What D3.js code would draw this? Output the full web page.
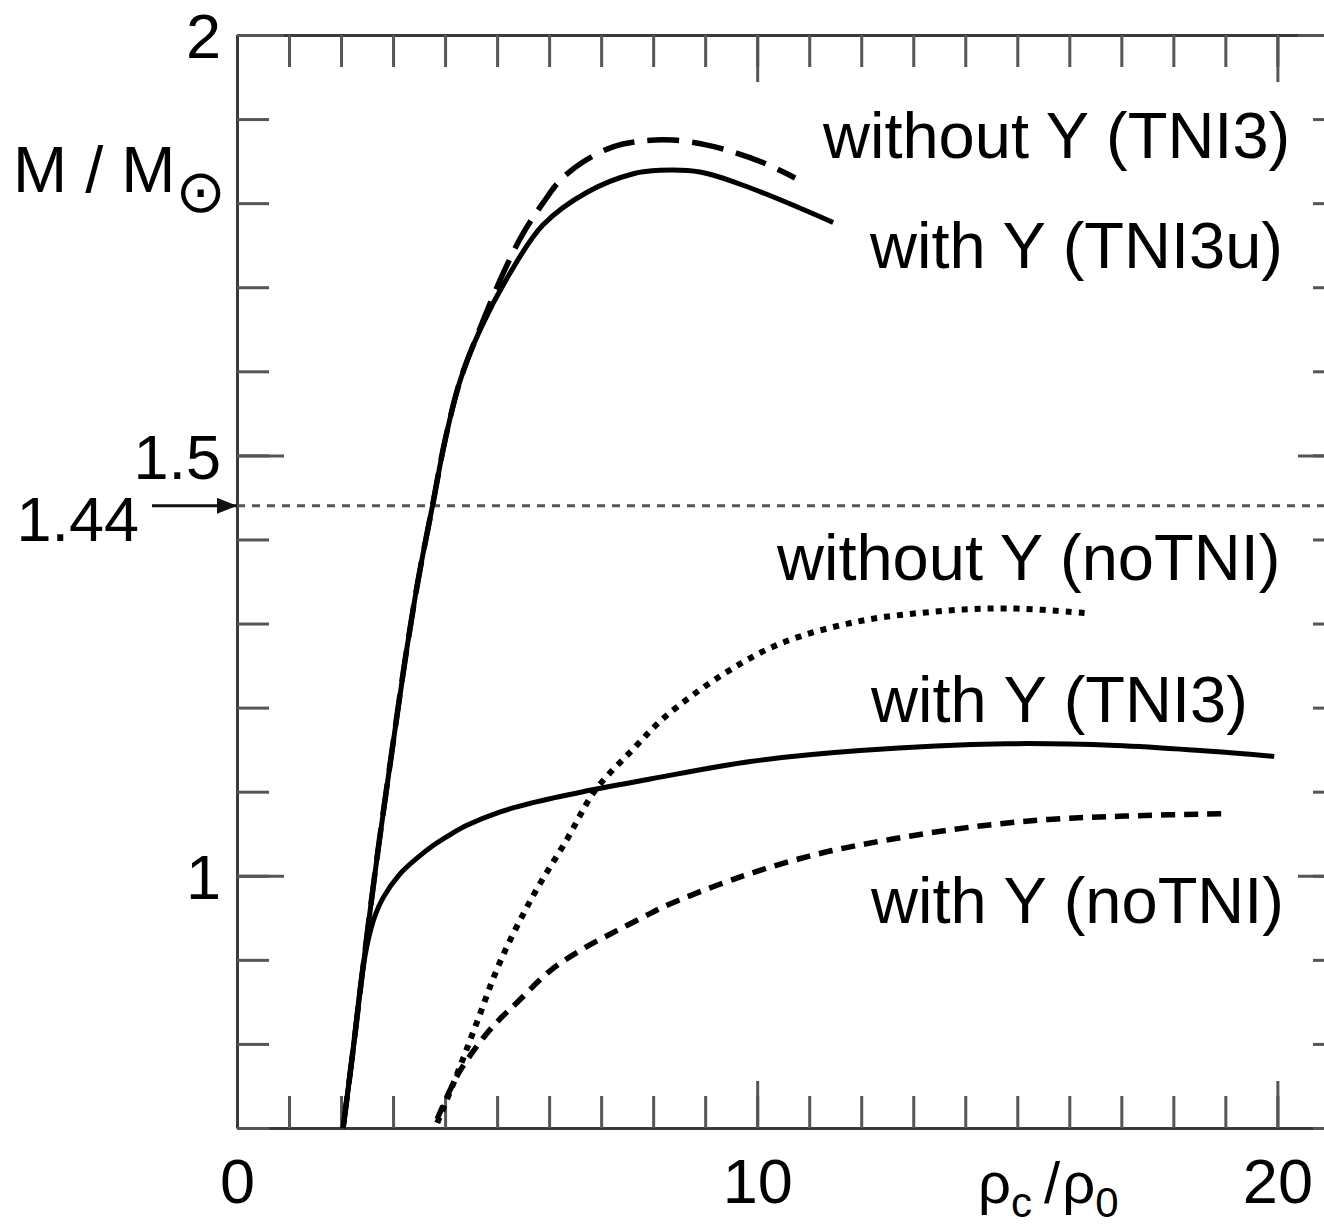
<!DOCTYPE html>
<html><head><meta charset="utf-8">
<script src="https://cdn.jsdelivr.net/npm/d3@7"></script>
<style>body{margin:0;background:#fff}svg{display:block}</style>
</head><body>
<script>
// Mass–central-density relation of neutron stars, M/M_sun vs rho_c/rho_0

const rhoTicksMinor = d3.range(0, 22, 1);
const rhoTicksMajor = [0, 10, 20];
const massTicksMinor = d3.range(7, 21).map(d => d / 10);
const massTicksMajor = [1, 1.5, 2];
const canonicalMass = 1.44;

// [rho_c/rho_0, M/M_sun]
const withoutY_TNI3 = [[2.04,0.700],[2.23,0.792],[2.42,0.890],[2.71,1.030],[2.98,1.149],[3.23,1.256],[3.48,1.351],[3.77,1.444],[4.00,1.518],[4.29,1.589],[4.67,1.651],[5.12,1.717],[5.50,1.764],[5.88,1.800],[6.21,1.827],[6.65,1.849],[7.23,1.867],[7.81,1.874],[8.38,1.875],[9.04,1.869],[9.58,1.860],[10.12,1.848],[10.73,1.830]];
const withY_TNI3u = [[2.04,0.700],[2.23,0.792],[2.42,0.890],[2.71,1.030],[2.98,1.149],[3.23,1.256],[3.48,1.351],[3.77,1.444],[4.00,1.518],[4.29,1.589],[4.67,1.649],[5.25,1.717],[5.88,1.774],[6.73,1.813],[7.62,1.835],[8.13,1.839],[8.90,1.837],[9.87,1.818],[11.46,1.777]];
const withY_TNI3 = [[2.04,0.700],[2.23,0.792],[2.40,0.881],[2.52,0.923],[2.65,0.952],[2.81,0.974],[3.13,1.002],[3.46,1.021],[3.77,1.036],[4.10,1.049],[4.42,1.060],[5.06,1.076],[5.69,1.087],[6.65,1.100],[7.94,1.115],[9.87,1.136],[11.98,1.149],[14.79,1.157],[16.90,1.155],[18.52,1.149],[19.94,1.142]];
const withoutY_noTNI = [[3.85,0.706],[4.23,0.764],[4.62,0.827],[5.06,0.898],[5.69,0.976],[6.35,1.044],[6.88,1.101],[7.62,1.151],[8.23,1.189],[9.33,1.239],[10.44,1.276],[11.90,1.302],[13.38,1.314],[14.85,1.318],[16.40,1.312]];
const withY_noTNI = [[3.85,0.711],[4.23,0.762],[4.48,0.786],[4.77,0.810],[5.06,0.830],[5.38,0.849],[6.02,0.887],[6.65,0.913],[7.31,0.935],[7.94,0.955],[8.23,0.964],[9.69,0.999],[11.17,1.026],[12.63,1.044],[14.12,1.058],[15.60,1.067],[17.06,1.071],[19.02,1.074]];

const seriesNames = ["without Y (TNI3)", "with Y (TNI3u)", "without Y (noTNI)", "with Y (TNI3)", "with Y (noTNI)"];

const W = 1324, H = 1226;
const x = d3.scaleLinear().domain([0, 21.3]).range([237, 1345]);
const y = d3.scaleLinear().domain([0.7, 2.0]).range([1128, 35]);

const svg = d3.select("body").append("svg").attr("width", W).attr("height", H)
  .style("font-family", "'Liberation Sans', Arial, Helvetica, sans-serif");
svg.append("rect").attr("width", W).attr("height", H).attr("fill", "#fff");

const axisColor = "#3a3a3a", tickColor = "#555";
function styleAxis(g, showDomain) {
  g.select(".domain").attr("stroke", showDomain ? axisColor : "none").attr("stroke-width", 3);
  g.selectAll(".tick line").attr("stroke", tickColor).attr("stroke-width", 3);
}

// frame with minor and major ticks on all four sides
const frame = [
  [d3.axisBottom(x), `translate(0,${y(0.7)})`, rhoTicksMinor, rhoTicksMajor],
  [d3.axisTop(x), `translate(0,${y(2.0)})`, rhoTicksMinor, rhoTicksMajor],
  [d3.axisLeft(y), `translate(${x(0)},0)`, massTicksMinor, massTicksMajor],
  [d3.axisRight(y), `translate(${x(21.3)},0)`, massTicksMinor, massTicksMajor]
];
frame.forEach(([ax, tr, minor, major]) => {
  const gMinor = svg.append("g").attr("transform", tr)
    .call(ax.tickValues(minor).tickSize(-32).tickSizeOuter(0).tickFormat(""));
  styleAxis(gMinor, true);
  const gMajor = svg.append("g").attr("transform", tr)
    .call(ax.tickValues(major).tickSize(-47).tickSizeOuter(0).tickFormat(""));
  styleAxis(gMajor, false);
});

// tick labels
const fs = 63;
const gxl = svg.append("g").attr("transform", `translate(0,${y(0.7)})`)
  .call(d3.axisBottom(x).tickValues(rhoTicksMajor).tickSize(0).tickFormat(d3.format("d")));
gxl.select(".domain").remove();
gxl.selectAll("text").attr("y", 75).attr("dy", null).attr("font-size", fs).attr("fill", "#000")
  .attr("font-family", "'Liberation Sans', Arial, sans-serif");

const gyl = svg.append("g").attr("transform", `translate(${x(0)},0)`)
  .call(d3.axisLeft(y).tickValues(massTicksMajor).tickSize(0).tickPadding(16).tickFormat(d => d3.format("")(d)));
gyl.select(".domain").remove();
gyl.selectAll("text").attr("dy", "0.36em").attr("font-size", fs).attr("fill", "#000")
  .attr("font-family", "'Liberation Sans', Arial, sans-serif");

// canonical mass reference line and arrow
svg.append("line")
  .attr("x1", x(0)).attr("x2", x(21.3)).attr("y1", y(canonicalMass)).attr("y2", y(canonicalMass))
  .attr("stroke", "#555").attr("stroke-width", 3).attr("stroke-dasharray", "8,7");
svg.append("defs").append("marker").attr("id", "arrowhead")
  .attr("viewBox", "0 0 20 16").attr("refX", 20).attr("refY", 8)
  .attr("markerWidth", 20).attr("markerHeight", 16).attr("markerUnits", "userSpaceOnUse")
  .attr("orient", "auto")
  .append("path").attr("d", "M0,0 L20,8 L0,16 Z").attr("fill", "#111");
svg.append("line")
  .attr("x1", 152).attr("x2", x(0)).attr("y1", y(canonicalMass)).attr("y2", y(canonicalMass))
  .attr("stroke", "#111").attr("stroke-width", 3).attr("marker-end", "url(#arrowhead)");
svg.append("text").attr("x", 139).attr("y", y(canonicalMass) + 35)
  .attr("text-anchor", "end").attr("font-size", fs).text(d3.format(".2f")(canonicalMass));

// axis titles
const yt = svg.append("text").attr("x", 13).attr("y", 192).attr("font-size", 65);
yt.append("tspan").text("M / M");
yt.append("tspan").attr("font-family", "'DejaVu Sans'").attr("font-size", 60).attr("dx", 0).attr("dy", 20).text("⊙");

const xt = svg.append("text").attr("x", 978).attr("y", 1203).attr("font-size", 58);
xt.append("tspan").text("ρ");
xt.append("tspan").attr("font-size", 42).attr("dy", 14).text("c");
xt.append("tspan").attr("dy", -14).attr("dx", 12).text("/");
xt.append("tspan").attr("dx", 2).text("ρ");
xt.append("tspan").attr("font-size", 42).attr("dy", 14).text("0");

// curves
const line = d3.line().x(d => x(d[0])).y(d => y(d[1])).curve(d3.curveCatmullRom.alpha(0.5));
const curves = [
  { data: withoutY_TNI3, dash: "32,13", w: 5.5 },
  { data: withoutY_noTNI, dash: "6,7", w: 6 },
  { data: withY_noTNI, dash: "14,9", w: 5.5 },
  { data: withY_TNI3, dash: null, w: 5 },
  { data: withY_TNI3u, dash: null, w: 5 }
];
svg.append("g").selectAll("path").data(curves).join("path")
  .attr("d", d => line(d.data))
  .attr("fill", "none").attr("stroke", "#000").attr("stroke-width", d => d.w)
  .attr("stroke-linecap", "butt").attr("stroke-linejoin", "round")
  .attr("stroke-dasharray", d => d.dash);

// curve labels
const labelPos = [[823, 158], [870, 268], [777, 580], [871, 722], [871, 923]];
svg.append("g").selectAll("text").data(seriesNames).join("text")
  .attr("x", (d, i) => labelPos[i][0]).attr("y", (d, i) => labelPos[i][1])
  .attr("font-size", 65).attr("fill", "#000").text(d => d);
</script>
</body></html>
